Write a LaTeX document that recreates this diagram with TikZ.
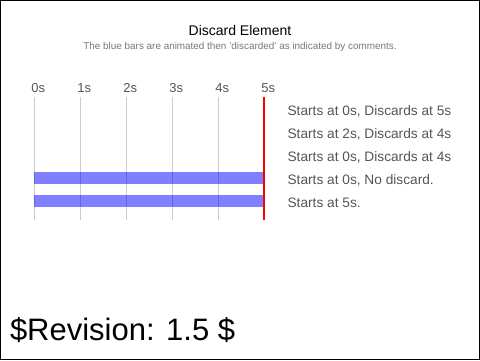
\documentclass[tikz,border=0pt]{standalone}
\usepackage{fontspec}
\setmainfont{Liberation Sans}
\definecolor{txtgray}{HTML}{555555}
\definecolor{subgray}{HTML}{777777}
\definecolor{gridgray}{HTML}{CCCCCC}
\definecolor{barblue}{HTML}{0000FF}
\begin{document}
\begin{tikzpicture}[x=1pt,y=-1pt,
  txt/.style={inner sep=0pt,outer sep=0pt},
  ticklabel/.style={txt,anchor=base,text=txtgray,font=\fontsize{13}{15}\selectfont},
  rowlabel/.style={txt,anchor=base west,text=txtgray,font=\fontsize{13.7}{16}\selectfont},
  gridline/.style={draw=gridgray,line width=1pt},
  bar/.style={fill=barblue,fill opacity=0.5,draw=none},
  discardline/.style={draw=red,line width=2pt}]
\useasboundingbox (0,0) rectangle (480,360);
\draw[black,line width=1pt] (0.5,0.5) rectangle (479.5,359.5);
\node[txt,anchor=base,font=\fontsize{14}{16}\selectfont] (title) at (240,35) {Discard Element};
\node[txt,anchor=base,text=subgray,font=\fontsize{9.9}{12}\selectfont] (subtitle) at (240,49.5) {The blue bars are animated then 'discarded' as indicated by comments.};
% grid lines and tick labels
\foreach \i in {0,...,4} {
  \coordinate (gt\i) at (34.3+46*\i,97);
  \coordinate (gb\i) at (34.3+46*\i,220);
  \draw[gridline] (gt\i) -- (gb\i);
}
\foreach \i in {0,...,5} {
  \node[ticklabel] (tick\i) at (38.3+46*\i,92) {\i s};
}
% bars
\fill[bar] (34.3,172.3) rectangle (264.3,183.7);
\fill[bar] (34.3,195.3) rectangle (264.3,206.7);
% red discard line
\coordinate (rt) at (264.3,97);
\coordinate (rb) at (264.3,220);
\draw[discardline] (rt) -- (rb);
% row labels
\node[rowlabel] (r1) at (287.6,115) {Starts at 0s, Discards at 5s};
\node[rowlabel] (r2) at (287.6,138) {Starts at 2s, Discards at 4s};
\node[rowlabel] (r3) at (287.6,161) {Starts at 0s, Discards at 4s};
\node[rowlabel] (r4) at (287.6,184) {Starts at 0s, No discard.};
\node[rowlabel] (r5) at (287.6,207) {Starts at 5s.};
\node[txt,anchor=base west,font=\fontsize{31}{36}\selectfont] (rev) at (10,340) {\$Revision: 1.5 \$};
\end{tikzpicture}
\end{document}
